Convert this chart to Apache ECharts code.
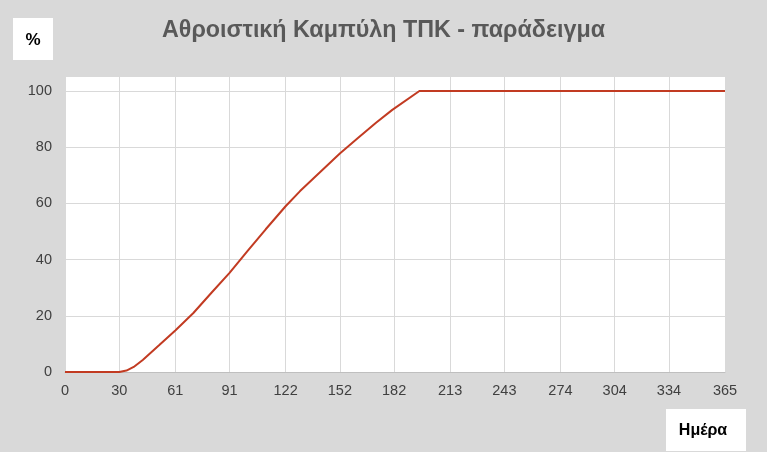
<!DOCTYPE html>
<html>
<head>
<meta charset="utf-8">
<script src="https://cdn.jsdelivr.net/npm/echarts@6/dist/echarts.min.js"></script>
<style>
html,body{margin:0;padding:0;background:#d9d9d9;}
#c{width:767px;height:452px;}
</style>
</head>
<body>
<div id="c"></div>
<script>
const titleText = 'Αθροιστική Καμπύλη ΤΠΚ - παράδειγμα';
const yName = '%';
const xName = 'Ημέρα';
const xTicks = [0, 30, 61, 91, 122, 152, 182, 213, 243, 274, 304, 334, 365];
const yTicks = [0, 20, 40, 60, 80, 100];
const days =   [0, 30, 34, 38, 43, 52, 61, 71, 81, 91, 101, 111, 122, 130, 141, 152, 162, 172, 181, 196, 365];
const values = [0, 0, 0.5, 1.8, 4.3, 9.5, 14.8, 21, 28.2, 35.3, 43.1, 50.8, 59.0, 64.4, 71.1, 77.8, 83.3, 88.7, 93.3, 100, 100];

const chart = echarts.init(document.getElementById('c'));
const axisFont = {fontFamily: 'Liberation Sans, Arial, sans-serif', fontSize: 14.5, color: '#404040'};
chart.setOption({
  backgroundColor: '#d9d9d9',
  animation: false,
  title: {
    text: titleText, left: 'center', top: 14,
    textStyle: {fontFamily: 'Liberation Sans, Arial, sans-serif', fontSize: 23.3, fontWeight: 'bold', color: '#595959'}
  },
  grid: {left: 65, right: 42, top: 77, bottom: 80, show: true, backgroundColor: '#ffffff', borderWidth: 0},
  xAxis: {
    type: 'value', min: 0, max: 365,
    axisLine: {show: true, lineStyle: {color: '#bfbfbf', width: 1}},
    axisTick: {show: false, customValues: xTicks},
    axisLabel: Object.assign({customValues: xTicks, margin: 11}, axisFont),
    splitLine: {show: true, lineStyle: {color: '#d9d9d9', width: 1}}
  },
  yAxis: {
    type: 'value', min: 0, max: 105,
    axisLine: {show: false},
    axisTick: {show: false, customValues: yTicks},
    axisLabel: Object.assign({customValues: yTicks, margin: 13}, axisFont),
    splitLine: {show: true, lineStyle: {color: '#d9d9d9', width: 1}}
  },
  series: [{
    type: 'line',
    data: days.map((d, i) => [d, values[i]]),
    showSymbol: false,
    lineStyle: {color: '#c23b22', width: 2},
    itemStyle: {color: '#c23b22'}
  }],
  graphic: [
    {type: 'rect', left: 13, top: 18, shape: {width: 40, height: 42}, style: {fill: '#ffffff'}},
    {type: 'text', x: 33, y: 40, style: {text: yName, fill: '#000', font: 'bold 17px "Liberation Sans", Arial, sans-serif', textAlign: 'center', textVerticalAlign: 'middle'}},
    {type: 'rect', left: 666, top: 409, shape: {width: 80, height: 42}, style: {fill: '#ffffff'}},
    {type: 'text', x: 703, y: 431, style: {text: xName, fill: '#000', font: 'bold 16px "Liberation Sans", Arial, sans-serif', textAlign: 'center', textVerticalAlign: 'middle'}}
  ]
});
</script>
</body>
</html>
